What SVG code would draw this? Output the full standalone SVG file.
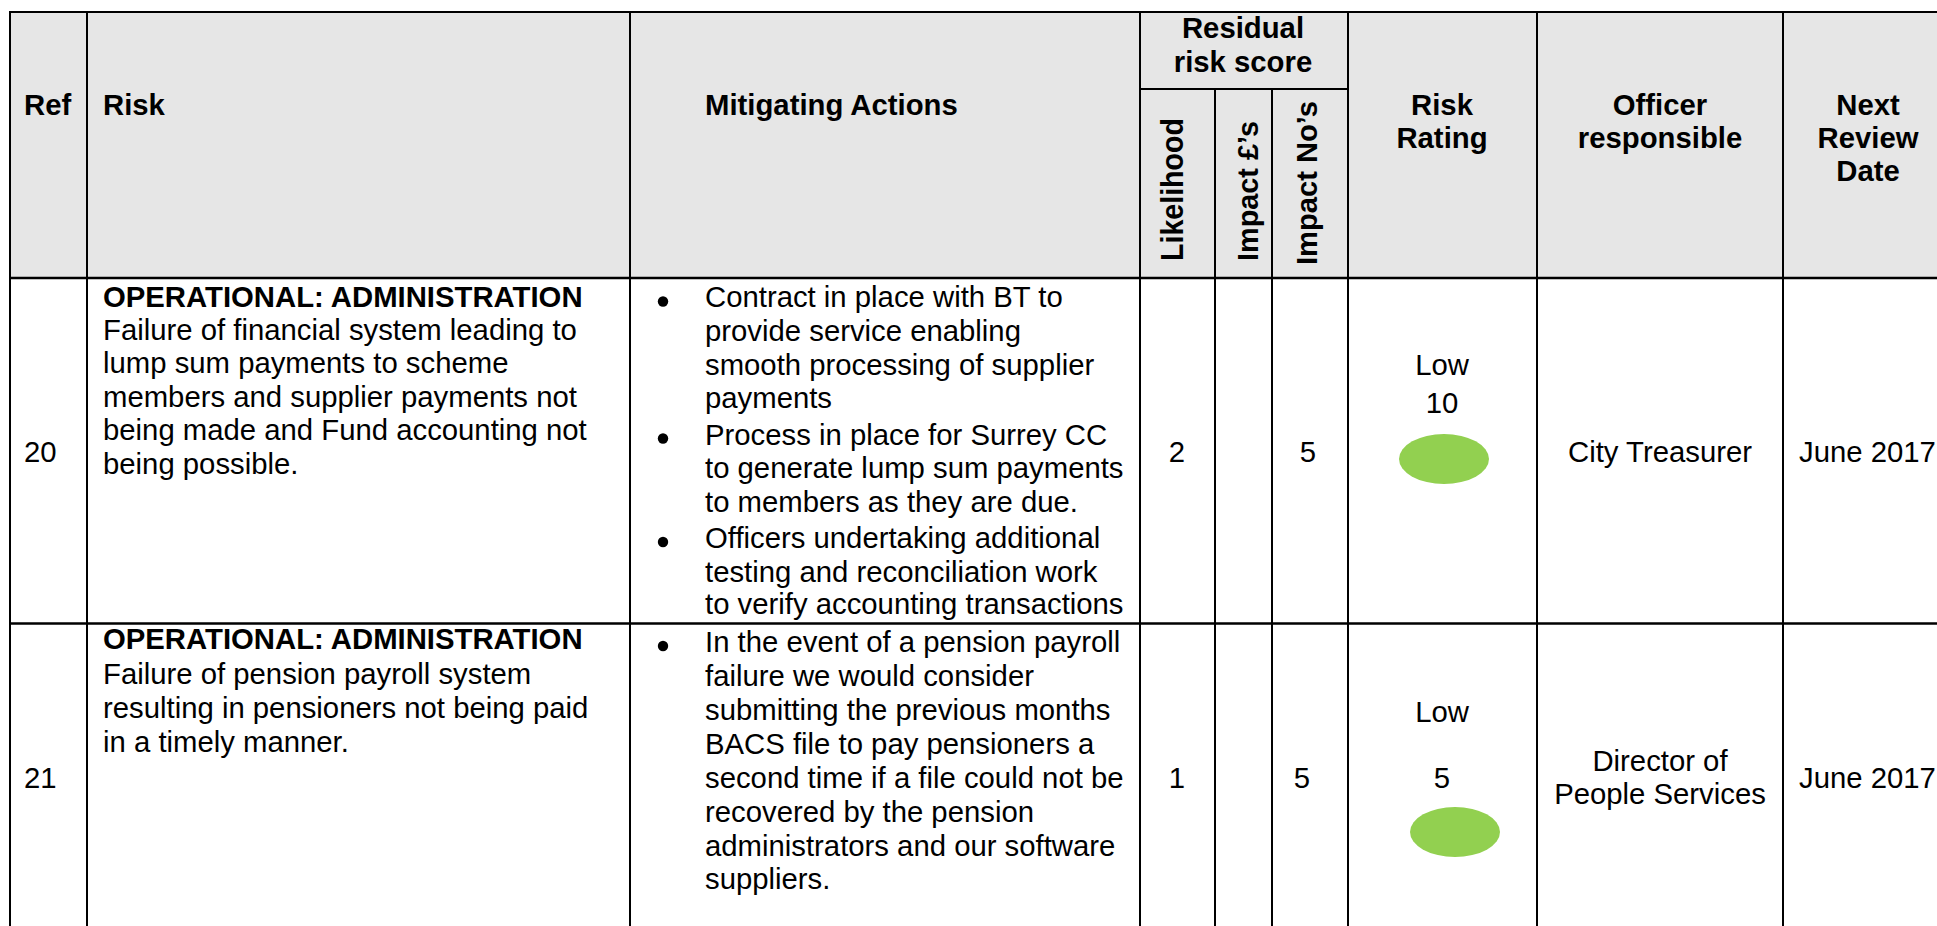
<svg xmlns="http://www.w3.org/2000/svg" width="1937" height="926" viewBox="0 0 1937 926">
<style>
text{font-family:"Liberation Sans",Arial,sans-serif;font-size:29.3px;fill:#000}
.b{font-weight:bold}
.m{text-anchor:middle}
.grid line{stroke:#000;stroke-width:2}
.dot{fill:#92D050}
.bul{fill:#000}
</style>
<rect x="0" y="0" width="1937" height="926" fill="#fff"/>
<g id="header">
<rect x="10" y="12" width="1927" height="266" fill="#E6E6E6"/>
<text class="b" x="24" y="115">Ref</text>
<text class="b" x="103" y="115">Risk</text>
<text class="b" x="705" y="115">Mitigating Actions</text>
<text class="b m" x="1243" y="38">Residual</text>
<text class="b m" x="1243" y="72">risk score</text>
<text class="b" transform="translate(1183,261) rotate(-90)" style="font-size:30.5px" textLength="143" lengthAdjust="spacingAndGlyphs">Likelihood</text>
<text class="b" transform="translate(1258,261) rotate(-90)" style="font-size:30px" textLength="140" lengthAdjust="spacingAndGlyphs">Impact £’s</text>
<text class="b" transform="translate(1317,265) rotate(-90)" style="font-size:30px" textLength="164" lengthAdjust="spacingAndGlyphs">Impact No’s</text>
<text class="b m" x="1442" y="115">Risk</text>
<text class="b m" x="1442" y="148">Rating</text>
<text class="b m" x="1660" y="115">Officer</text>
<text class="b m" x="1660" y="148">responsible</text>
<text class="b m" x="1868" y="115">Next</text>
<text class="b m" x="1868" y="148">Review</text>
<text class="b m" x="1868" y="181">Date</text>
</g>
<g id="row-20">
<text x="24" y="462">20</text>
<text class="b" x="103" y="306.5">OPERATIONAL: ADMINISTRATION</text>
<text x="103" y="340">Failure of financial system leading to</text>
<text x="103" y="373.4">lump sum payments to scheme</text>
<text x="103" y="406.8">members and supplier payments not</text>
<text x="103" y="440.2">being made and Fund accounting not</text>
<text x="103" y="473.6">being possible.</text>
<circle class="bul" cx="663" cy="301.5" r="5.2"/>
<text x="705" y="307">Contract in place with BT to</text>
<text x="705" y="341">provide service enabling</text>
<text x="705" y="374.5">smooth processing of supplier</text>
<text x="705" y="408">payments</text>
<circle class="bul" cx="663" cy="438.5" r="5.2"/>
<text x="705" y="444.5">Process in place for Surrey CC</text>
<text x="705" y="478">to generate lump sum payments</text>
<text x="705" y="512">to members as they are due.</text>
<circle class="bul" cx="663" cy="542" r="5.2"/>
<text x="705" y="548">Officers undertaking additional</text>
<text x="705" y="581.5">testing and reconciliation work</text>
<text x="705" y="614">to verify accounting transactions</text>
<text class="m" x="1177" y="462">2</text>
<text class="m" x="1308" y="462">5</text>
<text class="m" x="1442" y="375">Low</text>
<text class="m" x="1442" y="413">10</text>
<ellipse class="dot" cx="1444" cy="459" rx="45" ry="25"/>
<text class="m" x="1660" y="462">City Treasurer</text>
<text x="1799" y="462">June 2017</text>
</g>
<g id="row-21">
<text x="24" y="788">21</text>
<text class="b" x="103" y="649">OPERATIONAL: ADMINISTRATION</text>
<text x="103" y="684">Failure of pension payroll system</text>
<text x="103" y="718">resulting in pensioners not being paid</text>
<text x="103" y="752">in a timely manner.</text>
<circle class="bul" cx="663" cy="646" r="5.2"/>
<text x="705" y="652">In the event of a pension payroll</text>
<text x="705" y="686">failure we would consider</text>
<text x="705" y="720">submitting the previous months</text>
<text x="705" y="754">BACS file to pay pensioners a</text>
<text x="705" y="788">second time if a file could not be</text>
<text x="705" y="821.5">recovered by the pension</text>
<text x="705" y="855.5">administrators and our software</text>
<text x="705" y="889">suppliers.</text>
<text class="m" x="1177" y="788">1</text>
<text class="m" x="1302" y="788">5</text>
<text class="m" x="1442" y="722">Low</text>
<text class="m" x="1442" y="788">5</text>
<ellipse class="dot" cx="1455" cy="832" rx="45" ry="25"/>
<text class="m" x="1660" y="771">Director of</text>
<text class="m" x="1660" y="804">People Services</text>
<text x="1799" y="788">June 2017</text>
</g>
<g id="grid" class="grid">
<line x1="9" y1="12" x2="1937" y2="12"/>
<line x1="1140" y1="89" x2="1348" y2="89"/>
<line x1="9" y1="278" x2="1937" y2="278" style="stroke-width:2.5"/>
<line x1="9" y1="623.5" x2="1937" y2="623.5" style="stroke-width:2.5"/>
<line x1="10" y1="11" x2="10" y2="926"/>
<line x1="87" y1="11" x2="87" y2="926"/>
<line x1="630" y1="11" x2="630" y2="926"/>
<line x1="1140" y1="11" x2="1140" y2="926"/>
<line x1="1215" y1="89" x2="1215" y2="926"/>
<line x1="1272" y1="89" x2="1272" y2="926"/>
<line x1="1348" y1="11" x2="1348" y2="926"/>
<line x1="1537" y1="11" x2="1537" y2="926"/>
<line x1="1783" y1="11" x2="1783" y2="926"/>
</g>
</svg>
